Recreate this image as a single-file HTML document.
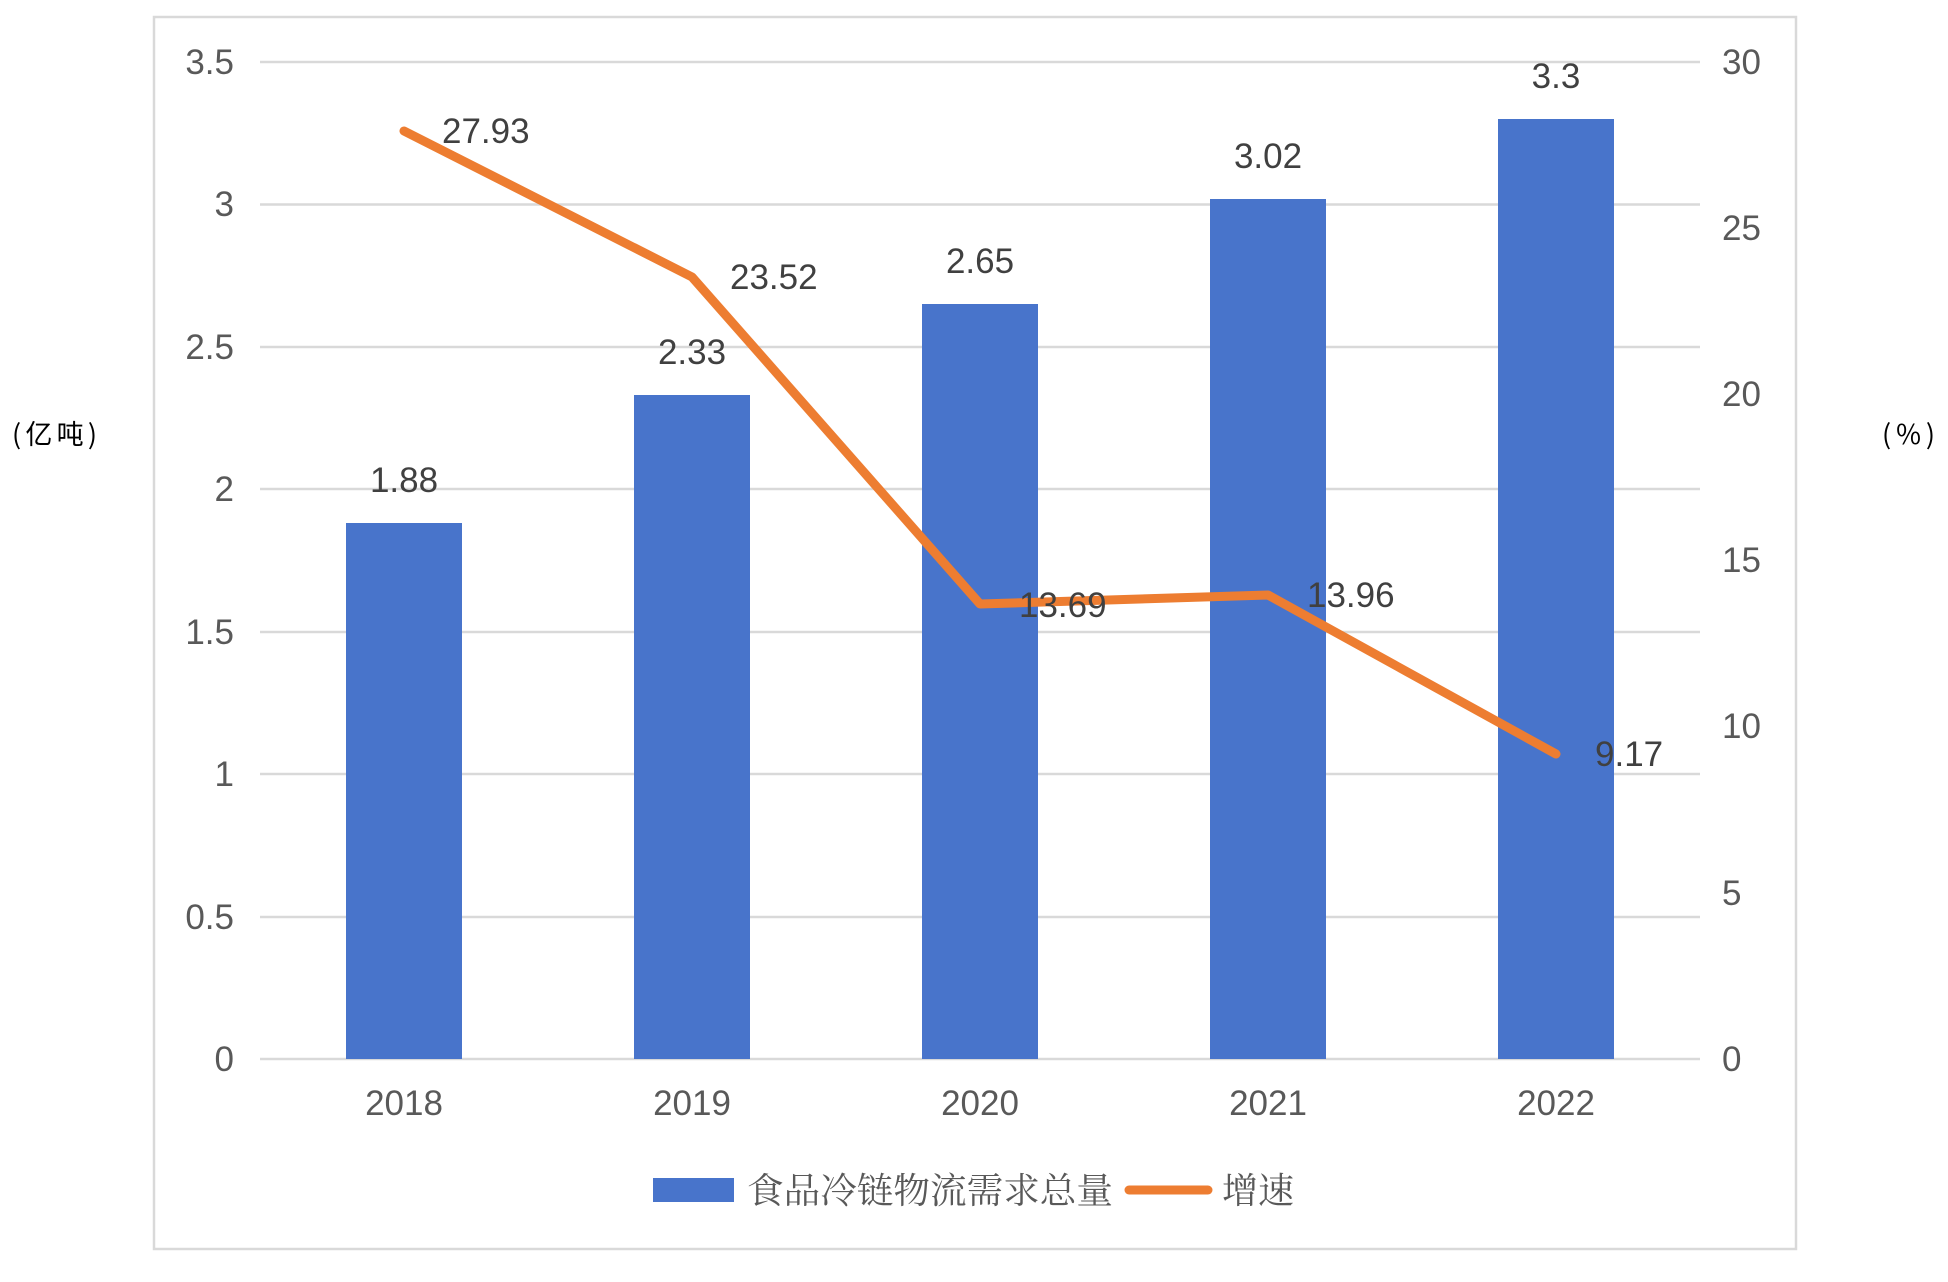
<!DOCTYPE html>
<html><head><meta charset="utf-8"><style>
html,body{margin:0;padding:0;background:#fff;}
svg{display:block;}
</style></head><body>
<svg width="1948" height="1282" viewBox="0 0 1948 1282" xmlns="http://www.w3.org/2000/svg">
<rect x="0" y="0" width="1948" height="1282" fill="#fff"/>
<rect x="154" y="17" width="1642" height="1232" fill="none" stroke="#d9d9d9" stroke-width="2.5"/>
<g stroke="#d9d9d9" stroke-width="2.5">
<line x1="260" x2="1700" y1="62" y2="62"/>
<line x1="260" x2="1700" y1="204.5" y2="204.5"/>
<line x1="260" x2="1700" y1="347" y2="347"/>
<line x1="260" x2="1700" y1="489" y2="489"/>
<line x1="260" x2="1700" y1="632" y2="632"/>
<line x1="260" x2="1700" y1="774" y2="774"/>
<line x1="260" x2="1700" y1="917" y2="917"/>
<line x1="260" x2="1700" y1="1059" y2="1059"/>
</g>
<g font-family="Liberation Sans, Arial, sans-serif" font-size="35" fill="#595959" text-anchor="end">
<text x="234" y="74">3.5</text>
<text x="234" y="216">3</text>
<text x="234" y="359">2.5</text>
<text x="234" y="501">2</text>
<text x="234" y="644">1.5</text>
<text x="234" y="786">1</text>
<text x="234" y="929">0.5</text>
<text x="234" y="1071">0</text>
</g>
<g font-family="Liberation Sans, Arial, sans-serif" font-size="35" fill="#595959" text-anchor="start">
<text x="1722" y="74">30</text>
<text x="1722" y="240">25</text>
<text x="1722" y="406">20</text>
<text x="1722" y="572">15</text>
<text x="1722" y="738">10</text>
<text x="1722" y="905">5</text>
<text x="1722" y="1071">0</text>
</g>
<g fill="#4874CB">
<rect x="346" y="523" width="116" height="536"/>
<rect x="634" y="395" width="116" height="664"/>
<rect x="922" y="304" width="116" height="755"/>
<rect x="1210" y="199" width="116" height="860"/>
<rect x="1498" y="119" width="116" height="940"/>
</g>
<g font-family="Liberation Sans, Arial, sans-serif" font-size="35" fill="#595959" text-anchor="middle">
<text x="404" y="1115">2018</text>
<text x="692" y="1115">2019</text>
<text x="980" y="1115">2020</text>
<text x="1268" y="1115">2021</text>
<text x="1556" y="1115">2022</text>
</g>
<g font-family="Liberation Sans, Arial, sans-serif" font-size="35" fill="#404040" text-anchor="middle">
<text x="404" y="492">1.88</text>
<text x="692" y="364">2.33</text>
<text x="980" y="273">2.65</text>
<text x="1268" y="168">3.02</text>
<text x="1556" y="88">3.3</text>
</g>
<polyline points="404,131 692,277 980,604 1268,595 1556,754" fill="none" stroke="#ED7D31" stroke-width="9" stroke-linecap="round" stroke-linejoin="round"/>
<g font-family="Liberation Sans, Arial, sans-serif" font-size="35" fill="#404040" text-anchor="start">
<text x="442" y="143">27.93</text>
<text x="730" y="289">23.52</text>
<text x="1019" y="617">13.69</text>
<text x="1307" y="607">13.96</text>
<text x="1595" y="766">9.17</text>
</g>
<text x="12" y="444" font-family="'Noto Sans CJK SC', sans-serif" font-size="27" fill="#000" textLength="85" lengthAdjust="spacing">(亿吨)</text>
<text x="1882" y="444" font-family="'Noto Sans CJK SC', sans-serif" font-size="27" fill="#000" textLength="53" lengthAdjust="spacing">(%)</text>
<rect x="653" y="1178" width="81" height="24" fill="#4874CB"/>
<text x="747" y="1203" font-family="Liberation Serif, 'Noto Serif CJK SC', serif" font-size="36" fill="#595959" textLength="366" lengthAdjust="spacingAndGlyphs">食品冷链物流需求总量</text>
<line x1="1129" y1="1190" x2="1208" y2="1190" stroke="#ED7D31" stroke-width="9" stroke-linecap="round"/>
<text x="1222" y="1203" font-family="Liberation Serif, 'Noto Serif CJK SC', serif" font-size="36" fill="#595959">增速</text>
</svg>
</body></html>
